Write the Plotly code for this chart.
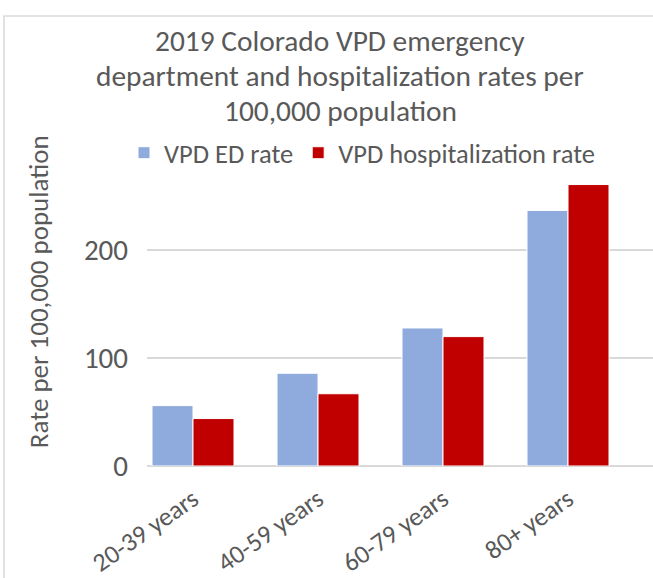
import plotly.graph_objects as go

age_groups = ["20-39 years", "40-59 years", "60-79 years", "80+ years"]
ed_rate = [56, 86, 128, 237]
hosp_rate = [44, 67, 120, 261]

title_lines = ["2019 Colorado VPD emergency",
               "department and hospitalization rates per",
               "100,000 population"]
y_title = "Rate per 100,000 population"

W, H = 653, 578
L, R, T, B = 147, 0, 170, 112
pw, ph = W - L - R, H - T - B

FONT = "Calibri, Carlito, Lato, sans-serif"
GREY = "#595959"


def px_x(x):
    return (x - L) / pw


def px_y(y):
    return (H - B - y) / ph


fig = go.Figure()

fig.add_trace(go.Bar(x=age_groups, y=ed_rate, name="VPD ED rate",
                     marker=dict(color="#8faadc", line=dict(color="white", width=1))))
fig.add_trace(go.Bar(x=age_groups, y=hosp_rate, name="VPD hospitalization rate",
                     marker=dict(color="#c00000", line=dict(color="white", width=1))))

# chart-area frame; only its top and left edges fall inside the picture
fig.add_shape(type="rect", xref="paper", yref="paper",
              x0=px_x(4), x1=px_x(670), y0=px_y(600), y1=px_y(5),
              line=dict(color="#d9d9d9", width=1.5), layer="below")

# title, one line at a time so the line spacing can be set
for i, line in enumerate(title_lines):
    fig.add_annotation(text=line, xref="paper", yref="paper",
                       x=px_x(340), y=px_y(31 + 35.5 * i),
                       xanchor="center", yanchor="middle", showarrow=False,
                       font=dict(size=29.4, color=GREY))

fig.add_annotation(text=y_title, xref="paper", yref="paper",
                   x=px_x(38), y=px_y(288), textangle=-90,
                   xanchor="center", yanchor="middle", showarrow=False,
                   font=dict(size=27, color=GREY))

fig.update_layout(
    width=W, height=H,
    margin=dict(l=L, r=R, t=T, b=B),
    paper_bgcolor="white", plot_bgcolor="white",
    font=dict(family=FONT, color=GREY, size=26),
    barmode="group", bargap=0.344, bargroupgap=0,
    legend=dict(orientation="h", xref="container", yref="container",
                x=124 / W, y=1 - 129 / H, xanchor="left", yanchor="top",
                font=dict(size=26.5), itemwidth=30),
    showlegend=True,
)

fig.update_xaxes(range=[-0.368, 3.68], tickangle=-35, showgrid=False,
                 showline=False, ticks="", tickfont=dict(size=26),
                 ticklabelstandoff=12, automargin=False)
fig.update_yaxes(range=[0, 268], tickvals=[0, 100, 200], showgrid=True,
                 gridcolor="#d9d9d9", gridwidth=1.5, zeroline=True,
                 zerolinecolor="#d9d9d9", zerolinewidth=1.5,
                 ticks="", ticklabelstandoff=18, tickfont=dict(size=29),
                 automargin=False)

fig.write_html("out.html", config={"displayModeBar": False},
               post_script="document.body.style.margin='0';")
